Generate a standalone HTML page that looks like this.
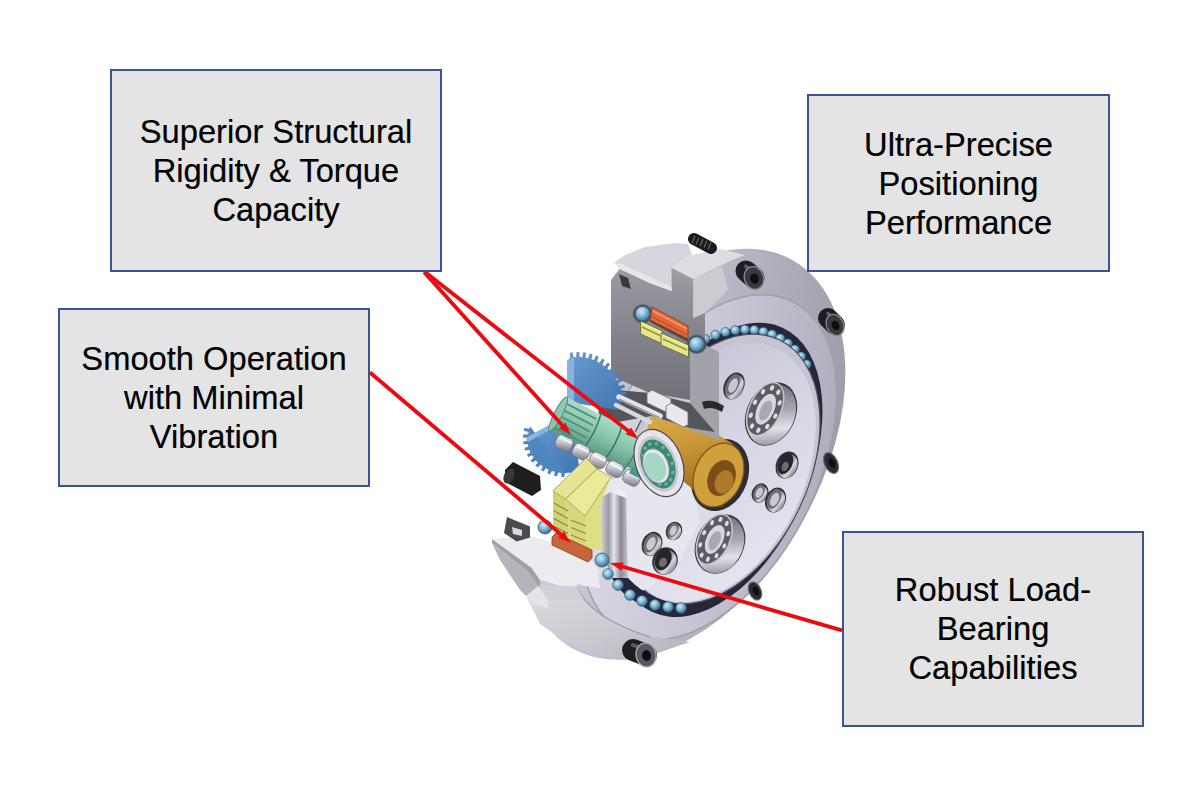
<!DOCTYPE html>
<html><head><meta charset="utf-8">
<style>
html,body{margin:0;padding:0;background:#fff;width:1200px;height:801px;overflow:hidden;position:relative;font-family:"Liberation Sans",sans-serif;}
.box{position:absolute;box-sizing:border-box;background:#e4e4e4;border:2px solid #3a5592;display:flex;align-items:center;justify-content:center;text-align:center;font-size:32.7px;line-height:39px;color:#000;-webkit-text-stroke:0.2px #000;}
svg{position:absolute;left:0;top:0;}
</style></head><body>
<svg width="1200" height="801" viewBox="0 0 1200 801">
<defs>
<linearGradient id="gRim" x1="0.2" y1="0" x2="0.8" y2="1">
 <stop offset="0" stop-color="#d6d3df"/><stop offset="0.45" stop-color="#bfbccb"/><stop offset="1" stop-color="#9c98a6"/></linearGradient>
<linearGradient id="gRing" x1="0.2" y1="0" x2="0.8" y2="1">
 <stop offset="0" stop-color="#dcdae6"/><stop offset="0.5" stop-color="#c8c6d4"/><stop offset="1" stop-color="#aca9b8"/></linearGradient>
<linearGradient id="gDisc" x1="0.1" y1="0.9" x2="0.9" y2="0.1">
 <stop offset="0" stop-color="#e6e6f0"/><stop offset="0.5" stop-color="#d8d8e6"/><stop offset="1" stop-color="#c6c6d6"/></linearGradient>
<linearGradient id="gOrange" x1="0" y1="0" x2="0.3" y2="1">
 <stop offset="0" stop-color="#dcae4c"/><stop offset="0.45" stop-color="#c99636"/><stop offset="1" stop-color="#94661c"/></linearGradient>
<radialGradient id="gBall" cx="0.4" cy="0.35" r="0.65">
 <stop offset="0" stop-color="#d2ecf8"/><stop offset="0.45" stop-color="#86bedc"/><stop offset="1" stop-color="#3d6e8c"/></radialGradient>
<linearGradient id="gBolt" x1="0" y1="0" x2="0" y2="1">
 <stop offset="0" stop-color="#1c1c1e"/><stop offset="0.35" stop-color="#707074"/><stop offset="0.6" stop-color="#2a2a2c"/><stop offset="1" stop-color="#111"/></linearGradient>
<linearGradient id="gCut" x1="0" y1="0" x2="0" y2="1">
 <stop offset="0" stop-color="#9c9ca4"/><stop offset="0.45" stop-color="#86868e"/><stop offset="1" stop-color="#707078"/></linearGradient>
<linearGradient id="gBore2" x1="0" y1="0" x2="1" y2="0.3">
 <stop offset="0" stop-color="#505058"/><stop offset="0.55" stop-color="#8c8c94"/><stop offset="0.8" stop-color="#d8d8e0"/><stop offset="1" stop-color="#a0a0a8"/></linearGradient>
<linearGradient id="gGreen" x1="0" y1="0" x2="0.3" y2="1">
 <stop offset="0" stop-color="#a6d8c2"/><stop offset="0.5" stop-color="#84c2a8"/><stop offset="1" stop-color="#5a9c84"/></linearGradient>
<linearGradient id="gRoll" x1="0" y1="0" x2="0.4" y2="1">
 <stop offset="0" stop-color="#f6f6fa"/><stop offset="0.5" stop-color="#d0d0d8"/><stop offset="1" stop-color="#8a8a92"/></linearGradient>
<linearGradient id="gLow" x1="0" y1="0" x2="1" y2="1">
 <stop offset="0" stop-color="#dcdce2"/><stop offset="0.6" stop-color="#c8c8d0"/><stop offset="1" stop-color="#b0b0b8"/></linearGradient>
<linearGradient id="gBlue" x1="0" y1="0" x2="1" y2="1">
 <stop offset="0" stop-color="#6a9cd2"/><stop offset="1" stop-color="#3f74ae"/></linearGradient>
<linearGradient id="gGreen2" x1="0" y1="0" x2="0" y2="1">
 <stop offset="0" stop-color="#a8dcc6"/><stop offset="0.45" stop-color="#88c6ac"/><stop offset="1" stop-color="#5a9a82"/></linearGradient>
<linearGradient id="gCyl" x1="0" y1="0" x2="1" y2="0">
 <stop offset="0" stop-color="#d8d8e0"/><stop offset="0.3" stop-color="#9a9aa4"/><stop offset="0.5" stop-color="#e4e4ec"/><stop offset="0.75" stop-color="#8a8a94"/><stop offset="1" stop-color="#c8c8d2"/></linearGradient>
<linearGradient id="gBore3" x1="0.2" y1="0" x2="0.6" y2="1">
 <stop offset="0" stop-color="#6a6a72"/><stop offset="0.45" stop-color="#a4a4ac"/><stop offset="0.75" stop-color="#e2e2ea"/><stop offset="1" stop-color="#9c9ca4"/></linearGradient>
<clipPath id="cpH"><polygon points="611,200 1000,200 1000,720 420,720 420,575 611,575"/></clipPath>
</defs>
<polygon points="588.0,540.0 612.0,535.0 625.0,560.0 625.0,600.0 596.0,592.0 586.0,566.0" fill="#dcdce2" />
<g clip-path="url(#cpH)">
<ellipse cx="682.6" cy="454.3" rx="223.2" ry="137.5" transform="rotate(-60.3 682.6 454.3)" fill="url(#gRim)" />
<ellipse cx="708.6" cy="467.3" rx="185.9" ry="107.8" transform="rotate(-62.9 708.6 467.3)" fill="url(#gRing)" stroke="#a0a0a8" stroke-width="1.5"/>
<ellipse cx="717.5" cy="469.9" rx="156.4" ry="90.5" transform="rotate(-65.4 717.5 469.9)" fill="#26283a" />
<circle cx="695.5" cy="344.1" r="4.6" fill="url(#gBall)" stroke="#2d5a72" stroke-width="0.6"/>
<circle cx="705.4" cy="339.0" r="4.6" fill="url(#gBall)" stroke="#2d5a72" stroke-width="0.6"/>
<circle cx="715.4" cy="334.9" r="4.6" fill="url(#gBall)" stroke="#2d5a72" stroke-width="0.6"/>
<circle cx="725.4" cy="332.0" r="4.6" fill="url(#gBall)" stroke="#2d5a72" stroke-width="0.6"/>
<circle cx="735.2" cy="330.2" r="4.6" fill="url(#gBall)" stroke="#2d5a72" stroke-width="0.6"/>
<circle cx="744.9" cy="329.6" r="4.6" fill="url(#gBall)" stroke="#2d5a72" stroke-width="0.6"/>
<circle cx="754.3" cy="330.1" r="4.6" fill="url(#gBall)" stroke="#2d5a72" stroke-width="0.6"/>
<circle cx="763.4" cy="331.8" r="4.6" fill="url(#gBall)" stroke="#2d5a72" stroke-width="0.6"/>
<circle cx="772.0" cy="334.6" r="4.6" fill="url(#gBall)" stroke="#2d5a72" stroke-width="0.6"/>
<circle cx="780.2" cy="338.5" r="4.6" fill="url(#gBall)" stroke="#2d5a72" stroke-width="0.6"/>
<circle cx="787.8" cy="343.5" r="4.6" fill="url(#gBall)" stroke="#2d5a72" stroke-width="0.6"/>
<circle cx="794.8" cy="349.5" r="4.6" fill="url(#gBall)" stroke="#2d5a72" stroke-width="0.6"/>
<circle cx="801.1" cy="356.5" r="4.6" fill="url(#gBall)" stroke="#2d5a72" stroke-width="0.6"/>
<circle cx="806.6" cy="364.5" r="4.6" fill="url(#gBall)" stroke="#2d5a72" stroke-width="0.6"/>
<circle cx="608.0" cy="574.0" r="4.6" fill="url(#gBall)" stroke="#2d5a72" stroke-width="0.6"/>
<circle cx="618.0" cy="585.0" r="4.6" fill="url(#gBall)" stroke="#2d5a72" stroke-width="0.6"/>
<circle cx="630.0" cy="595.0" r="4.6" fill="url(#gBall)" stroke="#2d5a72" stroke-width="0.6"/>
<circle cx="642.0" cy="601.0" r="4.6" fill="url(#gBall)" stroke="#2d5a72" stroke-width="0.6"/>
<circle cx="655.0" cy="605.0" r="4.6" fill="url(#gBall)" stroke="#2d5a72" stroke-width="0.6"/>
<circle cx="668.0" cy="607.0" r="4.6" fill="url(#gBall)" stroke="#2d5a72" stroke-width="0.6"/>
<circle cx="681.0" cy="608.0" r="4.6" fill="url(#gBall)" stroke="#2d5a72" stroke-width="0.6"/>
<ellipse cx="717.8" cy="469" rx="143" ry="90.5" transform="rotate(-64.6 717.8 469)" fill="#c6c4d2" stroke="#50505c" stroke-width="1.2"/>
<ellipse cx="717" cy="472.6" rx="137.9" ry="86.5" transform="rotate(-63.7 717 472.6)" fill="url(#gDisc)" />
</g>
<polygon points="598.0,485.0 640.0,469.0 690.0,480.0 700.0,520.0 680.0,560.0 650.0,588.0 628.0,596.0 612.0,575.0 600.0,545.0" fill="#e6e6ee" />
<polygon points="600.0,498.0 611.0,492.0 626.0,498.0 628.0,578.0 612.0,578.0 602.0,552.0" fill="url(#gCyl)" />
<polygon points="611.0,492.0 618.0,489.0 626.0,492.0 626.0,498.0" fill="#f0f0f4" />
<path d="M612,578 Q622,600 660,612 L690,614 L690,606 Q650,602 628,578 z" fill="#26283a"/>
<circle cx="608" cy="574" r="5.4" fill="url(#gBall)" stroke="#2d5a72" stroke-width="0.6"/>
<circle cx="618" cy="585" r="5.4" fill="url(#gBall)" stroke="#2d5a72" stroke-width="0.6"/>
<circle cx="630" cy="595" r="5.4" fill="url(#gBall)" stroke="#2d5a72" stroke-width="0.6"/>
<circle cx="642" cy="601" r="5.4" fill="url(#gBall)" stroke="#2d5a72" stroke-width="0.6"/>
<circle cx="655" cy="605" r="5.4" fill="url(#gBall)" stroke="#2d5a72" stroke-width="0.6"/>
<circle cx="668" cy="607" r="5.4" fill="url(#gBall)" stroke="#2d5a72" stroke-width="0.6"/>
<circle cx="681" cy="608" r="5.4" fill="url(#gBall)" stroke="#2d5a72" stroke-width="0.6"/>
<g transform="rotate(25 771 414)"><ellipse cx="771" cy="414" rx="24.5" ry="33" fill="#3a3a42"/><ellipse cx="771.6" cy="414.6" rx="23.1" ry="31.6" fill="url(#gBore3)"/><ellipse cx="763.65" cy="412.02" rx="15.68" ry="28.38" fill="#5c5c64" stroke="#c4c4cc" stroke-width="1.6"/><ellipse cx="775.8" cy="414.0" rx="1.9" ry="2.8" fill="#dcdce4"/><ellipse cx="772.9" cy="426.9" rx="1.9" ry="2.8" fill="#dcdce4"/><ellipse cx="766.4" cy="434.1" rx="1.9" ry="2.8" fill="#dcdce4"/><ellipse cx="758.9" cy="432.9" rx="1.9" ry="2.8" fill="#dcdce4"/><ellipse cx="753.2" cy="423.7" rx="1.9" ry="2.8" fill="#dcdce4"/><ellipse cx="751.5" cy="410.0" rx="1.9" ry="2.8" fill="#dcdce4"/><ellipse cx="754.4" cy="397.1" rx="1.9" ry="2.8" fill="#dcdce4"/><ellipse cx="760.9" cy="389.9" rx="1.9" ry="2.8" fill="#dcdce4"/><ellipse cx="768.4" cy="391.1" rx="1.9" ry="2.8" fill="#dcdce4"/><ellipse cx="774.1" cy="400.3" rx="1.9" ry="2.8" fill="#dcdce4"/><ellipse cx="764.15" cy="412.02" rx="9.094399999999998" ry="17.028" fill="#d6d6de" stroke="#55555c" stroke-width="1"/><ellipse cx="764.65" cy="413.02" rx="5.3312" ry="10.7844" fill="#a8a8b2"/></g>
<g transform="rotate(25 720 544)"><ellipse cx="720" cy="544" rx="24" ry="31" fill="#3a3a42"/><ellipse cx="720.6" cy="544.6" rx="22.6" ry="29.6" fill="url(#gBore3)"/><ellipse cx="712.8" cy="542.14" rx="15.36" ry="26.66" fill="#5c5c64" stroke="#c4c4cc" stroke-width="1.6"/><ellipse cx="724.7" cy="544.0" rx="1.8" ry="2.7" fill="#dcdce4"/><ellipse cx="721.8" cy="556.1" rx="1.8" ry="2.7" fill="#dcdce4"/><ellipse cx="715.5" cy="562.9" rx="1.8" ry="2.7" fill="#dcdce4"/><ellipse cx="708.1" cy="561.8" rx="1.8" ry="2.7" fill="#dcdce4"/><ellipse cx="702.5" cy="553.1" rx="1.8" ry="2.7" fill="#dcdce4"/><ellipse cx="700.9" cy="540.3" rx="1.8" ry="2.7" fill="#dcdce4"/><ellipse cx="703.8" cy="528.1" rx="1.8" ry="2.7" fill="#dcdce4"/><ellipse cx="710.1" cy="521.4" rx="1.8" ry="2.7" fill="#dcdce4"/><ellipse cx="717.5" cy="522.5" rx="1.8" ry="2.7" fill="#dcdce4"/><ellipse cx="723.1" cy="531.2" rx="1.8" ry="2.7" fill="#dcdce4"/><ellipse cx="713.3" cy="542.14" rx="8.9088" ry="15.995999999999999" fill="#d6d6de" stroke="#55555c" stroke-width="1"/><ellipse cx="713.8" cy="543.14" rx="5.2224" ry="10.1308" fill="#a8a8b2"/></g>
<g transform="rotate(25 734 386)"><ellipse cx="734" cy="386" rx="10" ry="14" fill="#303036"/><ellipse cx="734.8" cy="386.8" rx="8.6" ry="12.6" fill="url(#gBore2)"/><ellipse cx="732.2" cy="385.3" rx="6.2" ry="11.200000000000001" fill="#6c6c74"/><ellipse cx="733.0" cy="386" rx="4.0" ry="7.700000000000001" fill="#c8c8d0"/></g>
<g transform="rotate(25 652 544)"><ellipse cx="652" cy="544" rx="10" ry="12.5" fill="#303036"/><ellipse cx="652.8" cy="544.8" rx="8.6" ry="11.1" fill="url(#gBore2)"/><ellipse cx="650.2" cy="543.375" rx="6.2" ry="10.0" fill="#6c6c74"/><ellipse cx="651.0" cy="544" rx="4.0" ry="6.875000000000001" fill="#c8c8d0"/></g>
<g transform="rotate(25 674 531)"><ellipse cx="674" cy="531" rx="8" ry="9.5" fill="#303036"/><ellipse cx="674.8" cy="531.8" rx="6.6" ry="8.1" fill="url(#gBore2)"/><ellipse cx="672.56" cy="530.525" rx="4.96" ry="7.6000000000000005" fill="#6c6c74"/><ellipse cx="673.2" cy="531" rx="3.2" ry="5.2250000000000005" fill="#c8c8d0"/></g>
<g transform="rotate(25 665 561)"><ellipse cx="665" cy="561" rx="12.5" ry="14" fill="#303036"/><ellipse cx="665.8" cy="561.8" rx="11.1" ry="12.6" fill="url(#gBore2)"/><ellipse cx="662.75" cy="560.3" rx="7.75" ry="11.200000000000001" fill="#26262a"/><ellipse cx="663.75" cy="563.1" rx="3.75" ry="4.8999999999999995" fill="#6a6a70"/></g>
<g transform="rotate(25 760 493)"><ellipse cx="760" cy="493" rx="8" ry="10" fill="#303036"/><ellipse cx="760.8" cy="493.8" rx="6.6" ry="8.6" fill="url(#gBore2)"/><ellipse cx="758.56" cy="492.5" rx="4.96" ry="8.0" fill="#6c6c74"/><ellipse cx="759.2" cy="493" rx="3.2" ry="5.5" fill="#c8c8d0"/></g>
<g transform="rotate(25 775.5 500)"><ellipse cx="775.5" cy="500" rx="10" ry="13" fill="#303036"/><ellipse cx="776.3" cy="500.8" rx="8.6" ry="11.6" fill="url(#gBore2)"/><ellipse cx="773.7" cy="499.35" rx="6.2" ry="10.4" fill="#6c6c74"/><ellipse cx="774.5" cy="500" rx="4.0" ry="7.15" fill="#c8c8d0"/></g>
<g transform="rotate(25 787 465)"><ellipse cx="787" cy="465" rx="11" ry="14" fill="#303036"/><ellipse cx="787.8" cy="465.8" rx="9.6" ry="12.6" fill="url(#gBore2)"/><ellipse cx="785.02" cy="464.3" rx="6.82" ry="11.200000000000001" fill="#26262a"/><ellipse cx="785.9" cy="467.1" rx="3.3" ry="4.8999999999999995" fill="#6a6a70"/></g>
<ellipse cx="720" cy="475" rx="28" ry="37" transform="rotate(20 720 475)" fill="#2e2e32" />
<polygon points="650.0,417.0 662.0,412.0 700.0,424.0 733.0,444.0 744.0,470.0 722.0,507.0 699.0,494.0 660.0,463.0 645.0,440.0" fill="url(#gOrange)" />
<ellipse cx="718.5" cy="475" rx="24" ry="33" transform="rotate(22 718.5 475)" fill="#d0a03c" stroke="#7c5414" stroke-width="1.2"/>
<ellipse cx="721.5" cy="478" rx="13.5" ry="18.5" transform="rotate(22 721.5 478)" fill="#7a4e16" />
<ellipse cx="724" cy="482" rx="9" ry="12" transform="rotate(22 724 482)" fill="#b07a2c" />
<polygon points="611.0,280.0 619.5,268.7 650.0,283.0 671.5,291.0 671.5,268.0 693.0,279.0 693.0,318.0 705.0,313.0 705.0,345.0 690.0,345.0 690.0,400.0 650.0,393.0 611.0,376.0" fill="url(#gCut)" />
<polygon points="690.0,345.0 705.0,345.0 719.0,352.0 719.0,440.0 690.0,430.0" fill="#a2a2aa" />
<polygon points="693.0,279.0 722.0,266.0 728.0,290.0 705.0,313.0 693.0,318.0" fill="#cbcbd2" />
<polygon points="614.0,262.7 625.0,255.0 645.0,247.0 675.0,243.0 688.0,244.0 692.0,255.0 671.5,268.0 671.5,291.0 650.0,283.0 619.5,268.7" fill="#d6d6de" />
<polygon points="614.0,262.7 619.5,268.7 650.0,283.0 671.5,291.0 671.5,287.0 652.0,278.0 622.0,264.0" fill="#e6e6ec" />
<polygon points="671.5,268.0 692.0,255.0 720.0,249.0 745.0,255.0 730.0,261.0 693.0,279.0" fill="#dcdce2" />
<polygon points="671.5,268.0 693.0,279.0 693.0,283.0 671.5,272.0" fill="#9c9ca4" />
<ellipse cx="642.7" cy="313.7" rx="10" ry="9.5" transform="rotate(0 642.7 313.7)" fill="#5a5a62" />
<ellipse cx="696.7" cy="344.3" rx="10" ry="9.5" transform="rotate(0 696.7 344.3)" fill="#5a5a62" />
<circle cx="642.7" cy="313.7" r="7.6" fill="url(#gBall)" stroke="#24506a" stroke-width="1"/>
<circle cx="696.7" cy="344.3" r="7.8" fill="url(#gBall)" stroke="#24506a" stroke-width="1"/>
<polygon points="650.0,318.0 688.0,338.0 688.0,342.0 650.0,322.0" fill="#4a4a50" />
<polygon points="652.0,307.0 688.0,326.0 688.0,339.0 650.0,320.0" fill="#e0683a" stroke="#8a3a1a" stroke-width="0.9"/>
<line x1="653" y1="311" x2="687" y2="329" stroke="#f59a70" stroke-width="1.6"/>
<line x1="651" y1="316" x2="687" y2="335" stroke="#b04a22" stroke-width="1"/>
<polygon points="640.6,321.0 662.5,331.0 662.5,344.0 640.6,334.0" fill="#e6e68c" stroke="#6a6a30" stroke-width="0.9"/>
<polygon points="661.0,333.0 688.5,345.0 688.5,357.0 661.0,345.0" fill="#e6e68c" stroke="#6a6a30" stroke-width="0.9"/>
<line x1="642" y1="327" x2="661" y2="336" stroke="#8a9a40" stroke-width="1.4"/>
<line x1="663" y1="339" x2="687" y2="350" stroke="#8a9a40" stroke-width="1.4"/>
<line x1="642" y1="323" x2="661" y2="332" stroke="#f6f6b0" stroke-width="1"/>
<line x1="663" y1="335" x2="687" y2="346" stroke="#f6f6b0" stroke-width="1"/>
<polygon points="619.0,274.0 628.0,278.0 631.0,289.0 622.0,286.0" fill="#3a3a3e" />
<path d="M702,402 q10,-4 22,4 l-2,6 q-10,-6 -18,-3 z" fill="#2a2a2e"/>
<line x1="694" y1="239" x2="711" y2="248" stroke="#1c1c20" stroke-width="12" stroke-linecap="round"/>
<line x1="695" y1="236.0" x2="692" y2="243.0" stroke="#6a6a70" stroke-width="1.1"/>
<line x1="699" y1="237.6" x2="696" y2="244.6" stroke="#6a6a70" stroke-width="1.1"/>
<line x1="703" y1="239.2" x2="700" y2="246.2" stroke="#6a6a70" stroke-width="1.1"/>
<line x1="707" y1="240.8" x2="704" y2="247.8" stroke="#6a6a70" stroke-width="1.1"/>
<line x1="711" y1="242.4" x2="708" y2="249.4" stroke="#6a6a70" stroke-width="1.1"/>
<line x1="746" y1="271" x2="754" y2="278" stroke="#1e1e22" stroke-width="21.0" stroke-linecap="round"/><line x1="746" y1="266.275" x2="754" y2="273.275" stroke="#6a6a70" stroke-width="3.675" stroke-linecap="round" opacity="0.8"/><ellipse cx="754" cy="278" rx="9.5" ry="11.5" transform="rotate(-20 754 278)" fill="#3a3a3e" stroke="#8a8a92" stroke-width="1.3"/><ellipse cx="754.5" cy="278.5" rx="4.275" ry="5.175" transform="rotate(-20 754.5 278.5)" fill="#0e0e10" />
<line x1="828" y1="318" x2="835" y2="325" stroke="#1e1e22" stroke-width="20" stroke-linecap="round"/><line x1="828" y1="313.5" x2="835" y2="320.5" stroke="#6a6a70" stroke-width="3.5" stroke-linecap="round" opacity="0.8"/><ellipse cx="835" cy="325" rx="8.5" ry="11" transform="rotate(-25 835 325)" fill="#3a3a3e" stroke="#8a8a92" stroke-width="1.3"/><ellipse cx="835.5" cy="325.5" rx="3.825" ry="4.95" transform="rotate(-25 835.5 325.5)" fill="#0e0e10" />
<ellipse cx="831" cy="463" rx="6.5" ry="11" transform="rotate(-25 831 463)" fill="#2a2a2e" stroke="#6a6a70" stroke-width="1.2"/>
<ellipse cx="832" cy="463" rx="3" ry="5" transform="rotate(-25 832 463)" fill="#0e0e10" />
<ellipse cx="755" cy="591" rx="6" ry="9.5" transform="rotate(-25 755 591)" fill="#2a2a2e" stroke="#6a6a70" stroke-width="1.2"/>
<ellipse cx="756" cy="591" rx="2.8" ry="4.5" transform="rotate(-25 756 591)" fill="#0e0e10" />
<polygon points="596.0,388.0 650.0,393.0 690.0,403.0 715.0,432.0 690.0,428.0 652.0,416.0 600.0,425.0" fill="#55555c" />
<polygon points="567.0,361.0 570.2,357.7 569.8,352.7 572.6,352.3 573.6,357.2 576.2,357.0 576.5,352.0 579.3,352.0 579.7,357.0 582.2,357.2 583.2,352.3 586.0,352.7 585.6,357.7 588.1,358.2 589.8,353.5 592.5,354.3 591.5,359.2 593.9,360.1 596.1,355.6 598.7,356.8 597.1,361.5 599.4,362.8 602.2,358.6 604.6,360.1 602.4,364.6 604.5,366.2 607.8,362.5 610.0,364.3 607.2,368.5 609.1,370.3 612.9,367.1 614.9,369.2 611.5,373.0 613.1,375.0 617.4,372.3 619.0,374.7 615.2,378.0 616.6,380.3 621.1,378.2 622.5,380.8 618.3,383.5 619.3,386.0 624.1,384.5 625.1,387.3 620.6,389.5 621.3,392.0 626.3,391.2 626.9,394.1 622.1,395.7 622.6,398.3 618.0,410.0 568.0,402.0" fill="url(#gBlue)" />
<polygon points="567.0,361.0 574.0,357.0 574.0,402.0 567.0,402.0" fill="#8ab4e0" />
<line x1="619" y1="397" x2="660" y2="416" stroke="#e4e4ea" stroke-width="5.5" stroke-linecap="round"/>
<line x1="619" y1="399" x2="660" y2="418" stroke="#9a9aa2" stroke-width="1.5"/>
<line x1="616" y1="405" x2="650" y2="422" stroke="#d8d8de" stroke-width="4.5" stroke-linecap="round"/>
<polygon points="647.0,393.0 652.0,390.0 671.0,399.0 671.0,410.0 666.0,412.0 647.0,403.0" fill="#e8e8ee" stroke="#6a6a72" stroke-width="0.8"/>
<polygon points="666.0,406.0 671.0,403.0 688.0,412.0 688.0,425.0 683.0,427.0 666.0,418.0" fill="#e8e8ee" stroke="#6a6a72" stroke-width="0.8"/>
<polygon points="525.7,437.8 555.4,422.0 575.0,440.0 580.0,472.0 565.0,473.0 561.7,472.9 558.4,472.5 555.2,471.8 552.0,470.9 548.9,469.7 546.0,468.3 543.2,466.7 540.6,464.8 538.1,462.7 535.9,460.5 533.9,458.1 532.1,455.5 530.6,452.8 529.3,450.0 528.3,447.1 527.6,444.1 527.1,441.1 527.0,438.0 527.1,434.9 527.6,431.9 528.3,428.9 529.3,426.0" fill="url(#gBlue)" />
<polygon points="565.0,472.0 564.4,477.0 561.3,476.9 561.3,471.8 558.6,471.5 557.1,476.3 554.1,475.7 554.9,470.7 552.3,469.9 550.1,474.5 547.3,473.3 548.9,468.6 546.5,467.4 543.5,471.5 540.9,469.9 543.4,465.6 541.2,464.0 537.6,467.5 535.3,465.6 538.5,461.7 536.7,459.9 532.5,462.6 530.6,460.4 534.4,457.1 533.0,455.0 528.3,457.0 526.9,454.5 531.3,451.9 530.2,449.6 525.3,450.8 524.4,448.1 529.1,446.3 528.6,443.9 523.5,444.2 523.2,441.4 528.1,440.5 528.0,438.0 523.0,437.5 523.2,434.6 528.2,434.6 528.6,432.1 523.7,430.7 524.4,427.9 529.4,428.7 530.2,426.4" fill="#4f86c0" />
<polygon points="525.7,437.8 555.4,422.0 557.0,426.0 528.0,442.0" fill="#8ab4e0" />
<g transform="translate(560,415) rotate(27.3)">
<rect x="-2" y="-19" width="40" height="38" fill="url(#gGreen2)"/>
<line x1="0" y1="-13" x2="34" y2="-13" stroke="#4e8a74" stroke-width="1.6"/>
<line x1="0" y1="-6" x2="34" y2="-6" stroke="#4e8a74" stroke-width="1.6"/>
<line x1="0" y1="1" x2="34" y2="1" stroke="#4e8a74" stroke-width="1.6"/>
<line x1="0" y1="8" x2="34" y2="8" stroke="#4e8a74" stroke-width="1.6"/>
<line x1="0" y1="14" x2="34" y2="14" stroke="#4e8a74" stroke-width="1.6"/>
<ellipse cx="-2" cy="0" rx="4" ry="19" fill="#8cc8b0" stroke="#5a8a78" stroke-width="1"/>
<rect x="36" y="-19.5" width="46" height="39" fill="url(#gGreen2)"/>
<path d="M36,-19.5 q4,19.5 0,39" stroke="#3e6e5e" stroke-width="1.4" fill="none"/>
<path d="M60,-19.5 q4,19.5 0,39" stroke="#3e6e5e" stroke-width="1.4" fill="none"/>
<rect x="80" y="-15" width="28" height="30" fill="url(#gGreen2)"/>
<path d="M82,-19.5 q4,19.5 0,39" stroke="#3e6e5e" stroke-width="1" fill="none"/>
<rect x="8" y="16" width="17" height="14" rx="5" fill="url(#gRoll)" stroke="#76767e" stroke-width="0.8"/>
<line x1="10" y1="20" x2="23" y2="20" stroke="#ffffff" stroke-width="1.5"/>
<rect x="27" y="16" width="17" height="14" rx="5" fill="url(#gRoll)" stroke="#76767e" stroke-width="0.8"/>
<line x1="29" y1="20" x2="42" y2="20" stroke="#ffffff" stroke-width="1.5"/>
<rect x="46" y="16" width="17" height="14" rx="5" fill="url(#gRoll)" stroke="#76767e" stroke-width="0.8"/>
<line x1="48" y1="20" x2="61" y2="20" stroke="#ffffff" stroke-width="1.5"/>
<rect x="65" y="16" width="17" height="14" rx="5" fill="url(#gRoll)" stroke="#76767e" stroke-width="0.8"/>
<line x1="67" y1="20" x2="80" y2="20" stroke="#ffffff" stroke-width="1.5"/>
<rect x="84" y="16" width="17" height="14" rx="5" fill="url(#gRoll)" stroke="#76767e" stroke-width="0.8"/>
<line x1="86" y1="20" x2="99" y2="20" stroke="#ffffff" stroke-width="1.5"/>
<rect x="88" y="14" width="14" height="6" fill="#3f9a86"/>
<rect x="10" y="12" width="10" height="5" fill="#3f9a86"/>
</g>
<ellipse cx="659" cy="463" rx="23" ry="35" transform="rotate(-22 659 463)" fill="#e4e4ea" stroke="#4a4a52" stroke-width="1.2"/>
<ellipse cx="658" cy="464" rx="18.5" ry="29" transform="rotate(-22 658 464)" fill="#c8c8d2" />
<ellipse cx="658" cy="464" rx="16" ry="25.5" transform="rotate(-22 658 464)" fill="#3a8a78" />
<circle cx="666.1" cy="483.9" r="2.3" fill="#64b49e" stroke="#2d6a5a" stroke-width="0.5"/>
<circle cx="659.7" cy="484.2" r="2.3" fill="#64b49e" stroke="#2d6a5a" stroke-width="0.5"/>
<circle cx="653.0" cy="480.5" r="2.3" fill="#64b49e" stroke="#2d6a5a" stroke-width="0.5"/>
<circle cx="647.3" cy="473.5" r="2.3" fill="#64b49e" stroke="#2d6a5a" stroke-width="0.5"/>
<circle cx="643.7" cy="464.6" r="2.3" fill="#64b49e" stroke="#2d6a5a" stroke-width="0.5"/>
<circle cx="643.0" cy="455.6" r="2.3" fill="#64b49e" stroke="#2d6a5a" stroke-width="0.5"/>
<circle cx="645.2" cy="448.3" r="2.3" fill="#64b49e" stroke="#2d6a5a" stroke-width="0.5"/>
<circle cx="649.9" cy="444.1" r="2.3" fill="#64b49e" stroke="#2d6a5a" stroke-width="0.5"/>
<circle cx="656.3" cy="443.8" r="2.3" fill="#64b49e" stroke="#2d6a5a" stroke-width="0.5"/>
<circle cx="663.0" cy="447.5" r="2.3" fill="#64b49e" stroke="#2d6a5a" stroke-width="0.5"/>
<circle cx="668.7" cy="454.5" r="2.3" fill="#64b49e" stroke="#2d6a5a" stroke-width="0.5"/>
<circle cx="672.3" cy="463.4" r="2.3" fill="#64b49e" stroke="#2d6a5a" stroke-width="0.5"/>
<circle cx="673.0" cy="472.4" r="2.3" fill="#64b49e" stroke="#2d6a5a" stroke-width="0.5"/>
<circle cx="670.8" cy="479.7" r="2.3" fill="#64b49e" stroke="#2d6a5a" stroke-width="0.5"/>
<ellipse cx="656" cy="466" rx="12.5" ry="18" transform="rotate(-22 656 466)" fill="#e6e6ec" stroke="#7a7a82" stroke-width="0.8"/>
<ellipse cx="655" cy="467" rx="10.5" ry="15" transform="rotate(-22 655 467)" fill="#a4d8c2" />
<polygon points="553.0,491.0 565.6,499.0 570.0,538.0 553.0,527.0" fill="#d2d276" />
<polygon points="565.6,499.0 585.0,516.0 585.0,548.0 570.0,546.0 570.0,538.0" fill="#d8d87a" />
<polygon points="585.0,516.0 611.0,477.0 600.0,505.0 602.6,550.0 585.0,548.0" fill="#dede84" />
<polygon points="553.0,491.0 586.0,458.0 597.0,469.0 565.6,499.0" fill="#e6e692" stroke="#9a9a50" stroke-width="0.8"/>
<polygon points="565.6,499.0 597.0,469.0 611.0,477.0 585.0,516.0" fill="#eaea98" stroke="#9a9a50" stroke-width="0.8"/>
<line x1="554" y1="503.0" x2="568" y2="511.0" stroke="#8a9040" stroke-width="1.3"/>
<line x1="554" y1="510.8" x2="568" y2="518.5" stroke="#8a9040" stroke-width="1.3"/>
<line x1="554" y1="518.6" x2="568" y2="526.0" stroke="#8a9040" stroke-width="1.3"/>
<line x1="554" y1="526.4" x2="568" y2="533.5" stroke="#8a9040" stroke-width="1.3"/>
<line x1="571" y1="520.0" x2="586" y2="526.0" stroke="#8a9040" stroke-width="1.3"/>
<line x1="571" y1="527.5" x2="586" y2="533.5" stroke="#8a9040" stroke-width="1.3"/>
<line x1="571" y1="535.0" x2="586" y2="541.0" stroke="#8a9040" stroke-width="1.3"/>
<line x1="571" y1="542.5" x2="586" y2="548.5" stroke="#8a9040" stroke-width="1.3"/>
<polygon points="526.0,596.0 540.0,586.0 576.0,586.0 584.0,600.0 600.0,614.0 620.0,628.0 650.0,636.0 690.0,642.0 660.0,652.0 628.0,660.0 600.0,656.0 570.0,644.0 540.0,624.0" fill="url(#gLow)" />
<path d="M576,586 Q590,618 650,637" stroke="#9a9aa2" stroke-width="1.2" fill="none"/>
<polygon points="492.0,539.0 492.0,543.0 528.0,572.0 540.0,588.0 540.0,580.0 532.0,568.0" fill="#a0a0a8" />
<polygon points="492.0,543.0 528.0,572.0 540.0,588.0 526.0,596.0 520.0,590.0 500.0,560.0" fill="#b4b4bc" />
<polygon points="492.0,539.0 530.0,536.0 552.0,542.0 592.0,562.0 598.0,570.0 600.0,588.0 584.0,586.0 578.0,584.0 575.0,590.0 540.0,580.0 532.0,568.0" fill="#ebebf0" />
<polygon points="526.0,596.0 538.0,586.0 548.0,600.0 548.0,608.0 532.0,604.0" fill="#e4e4ea" />
<polygon points="538.0,586.0 576.0,586.0 584.0,600.0 548.0,600.0" fill="#d0d0d8" />
<polygon points="507.0,517.0 530.0,526.5 530.0,537.5 516.6,541.6 504.0,533.0" fill="#4a4a50" />
<polygon points="512.0,527.0 522.0,530.0 522.0,536.0 513.0,534.0" fill="#d8d8de" />
<polygon points="505.0,470.0 513.0,462.0 540.0,476.0 541.0,490.0 532.0,496.0 505.0,482.0" fill="#1e1e20" />
<ellipse cx="509" cy="476" rx="5" ry="8" transform="rotate(25 509 476)" fill="#38383c" />
<polygon points="552.0,537.0 556.0,533.0 592.0,550.0 592.0,558.0 588.0,562.0 552.0,545.0" fill="#c8643c" stroke="#8a3e1c" stroke-width="0.8"/>
<circle cx="545" cy="527" r="7" fill="url(#gBall)" stroke="#2d5a72" stroke-width="0.8"/>
<circle cx="602" cy="560" r="7" fill="url(#gBall)" stroke="#2d5a72" stroke-width="0.8"/>
<line x1="633" y1="650" x2="646" y2="655" stroke="#1e1e22" stroke-width="22" stroke-linecap="round"/><line x1="633" y1="645.05" x2="646" y2="650.05" stroke="#6a6a70" stroke-width="3.8499999999999996" stroke-linecap="round" opacity="0.8"/><ellipse cx="646" cy="655" rx="10" ry="12" transform="rotate(-10 646 655)" fill="#58585e" stroke="#a8a8b0" stroke-width="1.3"/><ellipse cx="646.5" cy="655.5" rx="4.5" ry="5.4" transform="rotate(-10 646.5 655.5)" fill="#0e0e10" />
</svg>
<div class="box" style="left:110px;top:69.25px;width:332px;height:202.5px;">Superior Structural<br>Rigidity &amp; Torque<br>Capacity</div>
<div class="box" style="left:807px;top:94px;width:303px;height:178px;">Ultra-Precise<br>Positioning<br>Performance</div>
<div class="box" style="left:58px;top:308px;width:312px;height:178.7px;">Smooth Operation<br>with Minimal<br>Vibration</div>
<div class="box" style="left:842px;top:530.5px;width:302px;height:196.5px;">Robust Load-<br>Bearing<br>Capabilities</div>
<svg width="1200" height="801" viewBox="0 0 1200 801">
<line x1="424" y1="272" x2="564.3" y2="427.6" stroke="#ec0a10" stroke-width="3.8"/><polygon points="571,435 559.1,428.2 565.4,422.5" fill="#ec0a10"/>
<line x1="425" y1="272" x2="630.6" y2="432.8" stroke="#ec0a10" stroke-width="3.8"/><polygon points="638.5,439 625.6,434.3 630.9,427.6" fill="#ec0a10"/>
<line x1="370" y1="372.5" x2="563.4" y2="536.5" stroke="#ec0a10" stroke-width="3.8"/><polygon points="571,543 558.3,537.8 563.8,531.3" fill="#ec0a10"/>
<line x1="842" y1="630.4" x2="619.6" y2="565.8" stroke="#ec0a10" stroke-width="3.8"/><polygon points="610,563 623.7,562.5 621.3,570.7" fill="#ec0a10"/>
</svg>
</body></html>
